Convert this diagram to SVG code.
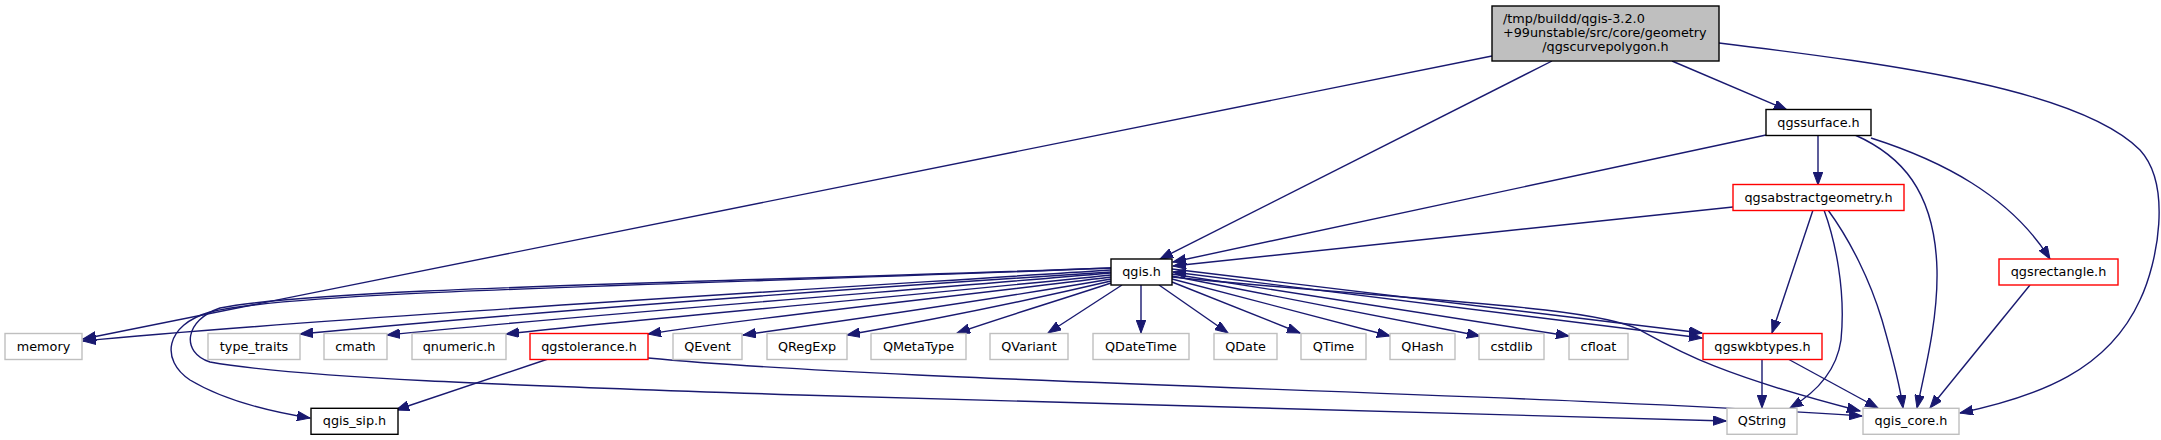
<svg xmlns="http://www.w3.org/2000/svg" width="2161" height="440" viewBox="0 0 2161 440">
<style>
.n rect{fill:#fff;stroke-width:1.4}
.g rect{stroke:#bfbfbf}
.r rect{stroke:#ff0000}
.b rect{stroke:#000}
text{font-family:"DejaVu Sans",sans-serif;font-size:12.8px;fill:#000}
.c{text-anchor:middle}
#edges path{fill:none;stroke:#191970;stroke-width:1.4;marker-end:url(#ah)}
#edges path.both{marker-start:url(#ah)}
</style>
<defs>
<marker id="ah" markerUnits="userSpaceOnUse" markerWidth="14" markerHeight="10" refX="13" refY="4.8" orient="auto-start-reverse">
<path d="M0,0 L13,4.8 L0,9.6 Z" fill="#191970" stroke="#191970" stroke-width="1"/>
</marker>
</defs>
<rect width="2161" height="440" fill="#fff"/>
<g id="edges">
<path d="M1492,56 L83,339"/>
<path d="M1552,61 L1160,259"/>
<path d="M1672,61 L1787,110"/>
<path d="M1719,43 C1900,65 2080,90 2140,150 C2172,185 2158,262 2140,300 C2108,370 2040,396 1960,413"/>
<path d="M1766,135 L1173,262"/>
<path d="M1818,135 L1818,185"/>
<path d="M1855,135 C1900,155 1935,190 1937,270 C1938,320 1925,370 1917,408"/>
<path d="M1871,138 C1940,160 2010,195 2050,259"/>
<path d="M1733,207 L1173,266"/>
<path d="M1813,210 L1772,333"/>
<path d="M1824,210 C1835,240 1846,290 1841,340 C1836,375 1812,395 1790,408"/>
<path d="M1828,210 C1850,240 1870,280 1882,320 C1892,355 1900,385 1903,408"/>
<path d="M2030,285 L1930,408"/>
<path d="M1762,359 L1762,408"/>
<path d="M1788,359 L1878,408"/>
<path d="M548,359 L396,410"/>
<path d="M648,358 C900,382 1500,392 1862,416"/>
<path d="M1111,268 C700,285 300,290 210,312 C165,325 160,360 190,380 C220,398 260,410 310,418"/>
<path d="M1111,268 C700,283 320,288 220,308 C185,320 180,352 210,362 C300,378 500,385 800,395 C1200,408 1500,414 1726,421"/>
<path d="M1111,270 C800,290 300,320 83,341"/>
<path d="M1111,272 C800,292 500,315 300,334"/>
<path d="M1111,273 C850,295 550,318 387,335"/>
<path d="M1111,275 C900,297 650,318 506,334"/>
<path d="M1111,277 C950,297 750,318 648,334"/>
<path d="M1111,279 C1000,298 850,320 743,335"/>
<path d="M1111,281 C1030,300 920,322 847,335"/>
<path d="M1111,283 C1060,300 1000,318 957,333"/>
<path d="M1122,285 L1048,333"/>
<path d="M1141,285 L1141,333"/>
<path d="M1159,285 L1228,333"/>
<path d="M1172,282 L1300,333"/>
<path d="M1172,279 L1390,336"/>
<path d="M1172,276 L1480,336"/>
<path d="M1172,274 L1569,336"/>
<path d="M1172,269 L1702,333"/>
<path class="both" d="M1173,272 L1702,338"/>
<path d="M1172,277 C1400,300 1590,305 1640,330 C1680,352 1720,375 1860,411"/>
</g>
<g id="n_top" class="n"><rect x="1492" y="6" width="227" height="55" style="fill:#bfbfbf" stroke="#000"/><text x="1503" y="22.5">/tmp/buildd/qgis-3.2.0</text><text x="1503" y="36.5">+99unstable/src/core/geometry</text><text class="c" x="1605.5" y="50.5">/qgscurvepolygon.h</text></g>
<g id="n_qgssurface" class="n b"><rect x="1766" y="109.5" width="105" height="26"/><text class="c" x="1818.5" y="126.5">qgssurface.h</text></g>
<g id="n_qgsabstractgeometry" class="n r"><rect x="1733" y="184.5" width="171" height="26"/><text class="c" x="1818.5" y="201.5">qgsabstractgeometry.h</text></g>
<g id="n_qgis" class="n b"><rect x="1111" y="259" width="61" height="26"/><text class="c" x="1141.5" y="276">qgis.h</text></g>
<g id="n_qgsrectangle" class="n r"><rect x="1999" y="259" width="119" height="26"/><text class="c" x="2058.5" y="276">qgsrectangle.h</text></g>
<g id="n_memory" class="n g"><rect x="5" y="333.5" width="77" height="26"/><text class="c" x="43.5" y="350.5">memory</text></g>
<g id="n_type_traits" class="n g"><rect x="208" y="333.5" width="92" height="26"/><text class="c" x="254" y="350.5">type_traits</text></g>
<g id="n_cmath" class="n g"><rect x="324" y="333.5" width="63" height="26"/><text class="c" x="355.5" y="350.5">cmath</text></g>
<g id="n_qnumeric" class="n g"><rect x="412" y="333.5" width="94" height="26"/><text class="c" x="459" y="350.5">qnumeric.h</text></g>
<g id="n_qgstolerance" class="n r"><rect x="530" y="333.5" width="118" height="26"/><text class="c" x="589" y="350.5">qgstolerance.h</text></g>
<g id="n_QEvent" class="n g"><rect x="673" y="333.5" width="69" height="26"/><text class="c" x="707.5" y="350.5">QEvent</text></g>
<g id="n_QRegExp" class="n g"><rect x="767" y="333.5" width="80" height="26"/><text class="c" x="807" y="350.5">QRegExp</text></g>
<g id="n_QMetaType" class="n g"><rect x="871" y="333.5" width="95" height="26"/><text class="c" x="918.5" y="350.5">QMetaType</text></g>
<g id="n_QVariant" class="n g"><rect x="990" y="333.5" width="78" height="26"/><text class="c" x="1029" y="350.5">QVariant</text></g>
<g id="n_QDateTime" class="n g"><rect x="1093" y="333.5" width="96" height="26"/><text class="c" x="1141" y="350.5">QDateTime</text></g>
<g id="n_QDate" class="n g"><rect x="1214" y="333.5" width="63" height="26"/><text class="c" x="1245.5" y="350.5">QDate</text></g>
<g id="n_QTime" class="n g"><rect x="1301" y="333.5" width="65" height="26"/><text class="c" x="1333.5" y="350.5">QTime</text></g>
<g id="n_QHash" class="n g"><rect x="1390" y="333.5" width="65" height="26"/><text class="c" x="1422.5" y="350.5">QHash</text></g>
<g id="n_cstdlib" class="n g"><rect x="1479" y="333.5" width="65" height="26"/><text class="c" x="1511.5" y="350.5">cstdlib</text></g>
<g id="n_cfloat" class="n g"><rect x="1569" y="333.5" width="59" height="26"/><text class="c" x="1598.5" y="350.5">cfloat</text></g>
<g id="n_qgswkbtypes" class="n r"><rect x="1703" y="333.5" width="119" height="26"/><text class="c" x="1762.5" y="350.5">qgswkbtypes.h</text></g>
<g id="n_qgis_sip" class="n b"><rect x="311" y="408.3" width="87" height="26"/><text class="c" x="354.5" y="425.3">qgis_sip.h</text></g>
<g id="n_QString" class="n g"><rect x="1727" y="408.3" width="70" height="26"/><text class="c" x="1762" y="425.3">QString</text></g>
<g id="n_qgis_core" class="n g"><rect x="1863" y="408.3" width="96" height="26"/><text class="c" x="1911" y="425.3">qgis_core.h</text></g>
</svg>
